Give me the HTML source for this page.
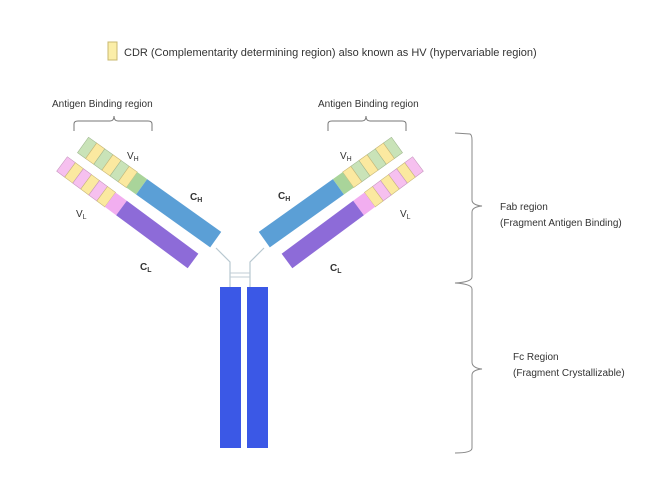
<!DOCTYPE html>
<html><head><style>
html,body{margin:0;padding:0;background:#fff;}
svg{display:block;font-family:"Liberation Sans",sans-serif;}
</style></head><body>
<svg width="670" height="478" viewBox="0 0 670 478">
<defs>
<g id="arm">
  <g transform="translate(83,145) rotate(35.5)">
    <rect x="0" y="-9.5" width="10" height="19" fill="#c9e3b8" stroke="#a0b890" stroke-width="0.6"/>
    <rect x="10" y="-9.5" width="10" height="19" fill="#fbe9a0" stroke="#c8b878" stroke-width="0.6"/>
    <rect x="20" y="-9.5" width="10" height="19" fill="#c9e3b8" stroke="#a0b890" stroke-width="0.6"/>
    <rect x="30" y="-9.5" width="10" height="19" fill="#fbe9a0" stroke="#c8b878" stroke-width="0.6"/>
    <rect x="40" y="-9.5" width="10" height="19" fill="#c9e3b8" stroke="#a0b890" stroke-width="0.6"/>
    <rect x="50" y="-9.5" width="10" height="19" fill="#fbe9a0" stroke="#c8b878" stroke-width="0.6"/>
    <rect x="60" y="-9.5" width="12" height="19" fill="#a9d49a"/>
    <rect x="72" y="-9.5" width="91" height="19" fill="#5b9fd6"/>
  </g>
  <g transform="translate(62,164) rotate(36.5)">
    <rect x="0" y="-9" width="10" height="18" fill="#f6c0ef" stroke="#c898c0" stroke-width="0.6"/>
    <rect x="10" y="-9" width="10" height="18" fill="#fbe9a0" stroke="#c8b878" stroke-width="0.6"/>
    <rect x="20" y="-9" width="10" height="18" fill="#f6c0ef" stroke="#c898c0" stroke-width="0.6"/>
    <rect x="30" y="-9" width="10" height="18" fill="#fbe9a0" stroke="#c8b878" stroke-width="0.6"/>
    <rect x="40" y="-9" width="10" height="18" fill="#f6c0ef" stroke="#c898c0" stroke-width="0.6"/>
    <rect x="50" y="-9" width="10" height="18" fill="#fbe9a0" stroke="#c8b878" stroke-width="0.6"/>
    <rect x="60" y="-9" width="14" height="18" fill="#f2aef0"/>
    <rect x="74" y="-9" width="89" height="18" fill="#8d6bd8"/>
  </g>
  <path d="M216,248 L230,262 L230,287" fill="none" stroke="#b8c8d0" stroke-width="1.2"/>
  <path d="M74,131 L74,124 Q74,121 78,121 L110,121 Q114,121 114,116 Q114,121 118,121 L148,121 Q152,121 152,124 L152,131" fill="none" stroke="#777" stroke-width="1"/>
</g>
</defs>
<rect x="108" y="42" width="9" height="18" fill="#fbeea8" stroke="#c8b870" stroke-width="1"/>
<text x="124" y="56" font-size="11" fill="#333">CDR (Complementarity determining region) also known as HV (hypervariable region)</text>
<use href="#arm"/>
<use href="#arm" transform="translate(480,0) scale(-1,1)"/>
<line x1="230" y1="273" x2="250" y2="273" stroke="#c0ccd4" stroke-width="1"/>
<line x1="230" y1="277" x2="250" y2="277" stroke="#c0ccd4" stroke-width="1"/>
<rect x="220" y="287" width="21" height="161" fill="#3b58e6"/>
<rect x="247" y="287" width="21" height="161" fill="#3b58e6"/>
<g font-size="10" fill="#333">
<text x="52" y="107">Antigen Binding region</text>
<text x="318" y="107">Antigen Binding region</text>
<text x="127" y="159">V<tspan font-size="7" dy="2">H</tspan></text>
<text x="190" y="200" font-weight="bold">C<tspan font-size="7" dy="2">H</tspan></text>
<text x="76" y="217">V<tspan font-size="7" dy="2">L</tspan></text>
<text x="140" y="270" font-weight="bold">C<tspan font-size="7" dy="2">L</tspan></text>
<text x="340" y="159">V<tspan font-size="7" dy="2">H</tspan></text>
<text x="278" y="199" font-weight="bold">C<tspan font-size="7" dy="2">H</tspan></text>
<text x="400" y="217">V<tspan font-size="7" dy="2">L</tspan></text>
<text x="330" y="271" font-weight="bold">C<tspan font-size="7" dy="2">L</tspan></text>
<text x="500" y="210">Fab region</text>
<text x="500" y="226">(Fragment Antigen Binding)</text>
<text x="513" y="360">Fc Region</text>
<text x="513" y="376">(Fragment Crystallizable)</text>
</g>
<path d="M455,133 L470,134 Q472,135 472,140 L472,200 Q472,205 482,206 Q472,207 472,212 L472,277 Q472,282 455,283 Q472,284 472,289 L472,362 Q472,368 482,369 Q472,370 472,375 L472,448 Q472,453 455,453" fill="none" stroke="#888" stroke-width="1"/>
</svg>
</body></html>
